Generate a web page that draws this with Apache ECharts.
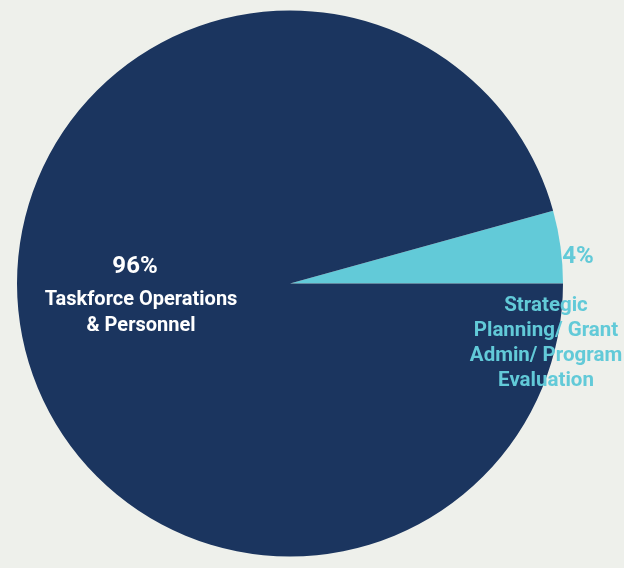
<!DOCTYPE html>
<html>
<head>
<meta charset="utf-8">
<script src="https://cdn.jsdelivr.net/npm/echarts@6/dist/echarts.min.js"></script>
<style>
html,body{margin:0;padding:0;background:#eef0eb;}
#chart{width:624px;height:568px;}
</style>
</head>
<body>
<div id="chart"></div>
<script>
var categories = ['Strategic\nPlanning/ Grant\nAdmin/ Program\nEvaluation', 'Taskforce Operations\n& Personnel'];
var values = [4.3, 95.7];
var colors = ['#62cad8', '#1b355f'];

var total = values.reduce(function(a, b){ return a + b; }, 0);
var startAngle = 360 * values[0] / total;

var chart = echarts.init(document.getElementById('chart'));
chart.setOption({
  backgroundColor: '#eef0eb',
  animation: false,
  series: [{
    type: 'pie',
    center: [290, 283.5],
    radius: [0, 273],
    startAngle: startAngle,
    clockwise: true,
    avoidLabelOverlap: false,
    labelLine: { show: false },
    itemStyle: { borderWidth: 0 },
    emphasis: { disabled: true },
    data: categories.map(function(c, i){
      return { name: c, value: values[i], itemStyle: { color: colors[i] } };
    }),
    label: {
      show: true,
      position: 'inside',
      fontFamily: 'Roboto',
      fontWeight: 'bold',
      formatter: function(p){
        var pct = Math.round(p.percent) + '%';
        if (p.dataIndex === 0) {
          return '{q|' + pct + '}\n{m|' + p.name.split('\n').join('}\n{m|') + '}';
        }
        return '{p|' + pct + '}\n{n|' + p.name.split('\n').join('}\n{n|') + '}';
      },
      rich: {
        p: { fontFamily: 'Roboto', fontWeight: 'bold', fontSize: 24, color: '#ffffff', lineHeight: 40, align: 'center', padding: [0, 12, 0, 0] },
        n: { fontFamily: 'Roboto', fontWeight: 'bold', fontSize: 20, color: '#ffffff', lineHeight: 26, align: 'center' },
        q: { fontFamily: 'Roboto', fontWeight: 'bold', fontSize: 24, color: '#62cad8', lineHeight: 72, align: 'center', padding: [0, 0, 0, 64] },
        m: { fontFamily: 'Roboto', fontWeight: 'bold', fontSize: 20.5, color: '#62cad8', lineHeight: 25, align: 'center' }
      }
    },
    labelLayout: function(params){
      if (params.dataIndex === 0) {
        return { x: 546, y: 221, align: 'center', verticalAlign: 'top' };
      }
      return { x: 141, y: 247, align: 'center', verticalAlign: 'top' };
    }
  }]
});
</script>
</body>
</html>
